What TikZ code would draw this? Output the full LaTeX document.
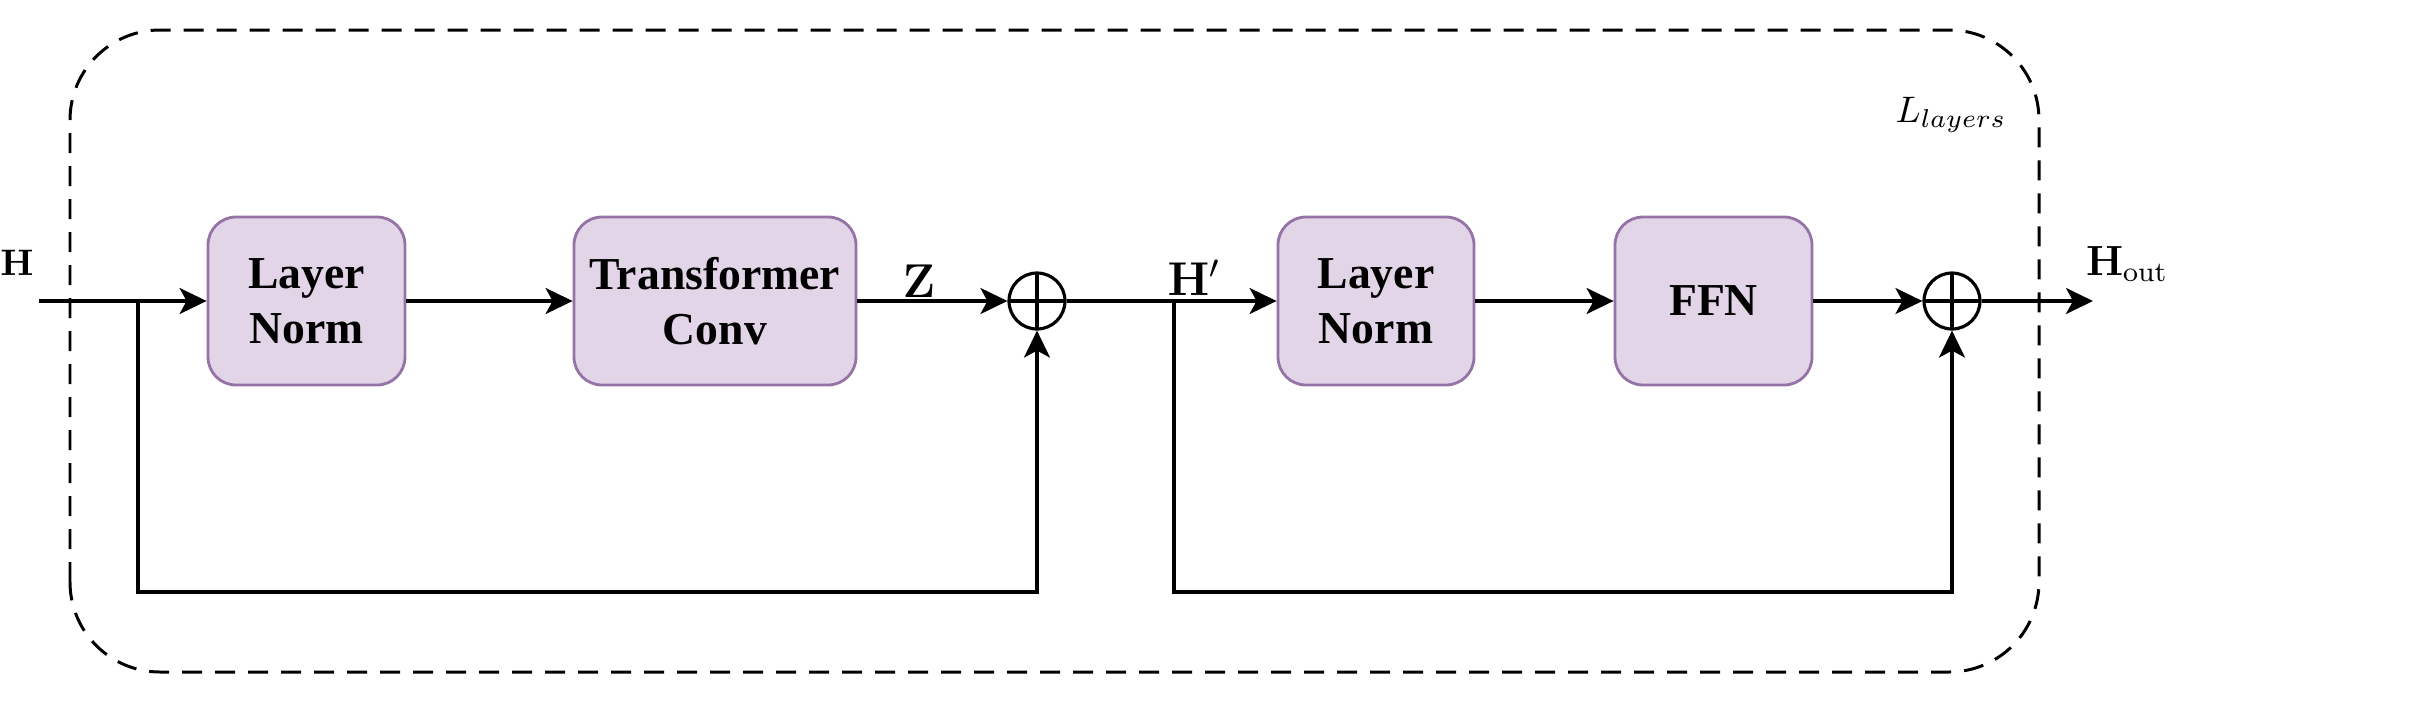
\documentclass[tikz,border=0pt]{standalone}
\usepackage{fix-cm}
\usepackage[no-math]{fontspec}
\setmainfont{Liberation Serif}
\usetikzlibrary{arrows.meta}
\definecolor{blockfill}{HTML}{E1D5E7}
\definecolor{blockline}{HTML}{9673A6}
\tikzset{
	block/.style={draw=blockline,fill=blockfill,line width=0.8pt,rounded corners=0.28cm,minimum width=1.97cm,minimum height=1.68cm,align=center,font=\fontsize{13}{15.7}\selectfont\bfseries},
	addop/.style={draw,circle,line width=0.9pt,minimum size=0.56cm,inner sep=0pt,
		path picture={\draw[line width=0.9pt] (path picture bounding box.north)--(path picture bounding box.south) (path picture bounding box.west)--(path picture bounding box.east);}},
	flow/.style={line width=0.9pt,-{Stealth[length=0.27cm,width=0.26cm,inset=0.07cm]}},
	vec/.style={font=\fontsize{13.5}{16}\selectfont}
}
\begin{document}
	\begin{tikzpicture}
		\useasboundingbox (0,0) rectangle (24.35,7);
		\draw[line width=0.85pt,dash pattern=on 0.2cm off 0.13cm,rounded corners=0.9cm] (0.70,0.28) rectangle (20.39,6.70); %虚线框
		\node (lay) at (19.51,5.85) {\fontsize{10.5}{12}\selectfont$L_{layers}$};
		% 方块
		\node[block] (ln1) at (3.065,3.99) {Layer\\Norm};
		\node[block,minimum width=2.82cm] (tc) at (7.15,3.99) {Transformer\\Conv};
		\node[addop] (p1) at (10.37,3.99) {};
		\node[block,minimum width=1.96cm] (ln2) at (13.76,3.99) {Layer\\Norm};
		\node[block] (ffn) at (17.135,3.99) {FFN};
		\node[addop] (p2) at (19.52,3.99) {};
		\coordinate (in) at (0.39,3.99);
		\coordinate (b1) at (1.38,3.99);
		\coordinate (b2) at (11.74,3.99);
		\coordinate (out) at (20.93,3.99);
		% 文字
		\node[font=\fontsize{10.5}{12}\selectfont] (h) at (0.17,4.37) {$\mathbf{H}$};
		\node[vec] (z) at (9.19,4.19) {$\mathbf{Z}$};
		\node[vec] (hp) at (11.94,4.22) {$\mathbf{H}'$};
		\node[font=\fontsize{12}{14}\selectfont] (hout) at (21.27,4.36) {$\mathbf{H}_{\mathrm{out}}$};
		% 连线
		\draw[flow] (in)--(ln1.west);
		\draw[flow] (ln1.east)--(tc.west);
		\draw[flow] (tc.east)--(p1.west);
		\draw[flow] (b1)--++(0,-2.91)-|(p1.south);
		\draw[flow] (p1.east)--(ln2.west);
		\draw[flow] (ln2.east)--(ffn.west);
		\draw[flow] (ffn.east)--(p2.west);
		\draw[flow] (b2)--++(0,-2.91)-|(p2.south);
		\draw[flow] (p2.east)--(out);
	\end{tikzpicture}
\end{document}
